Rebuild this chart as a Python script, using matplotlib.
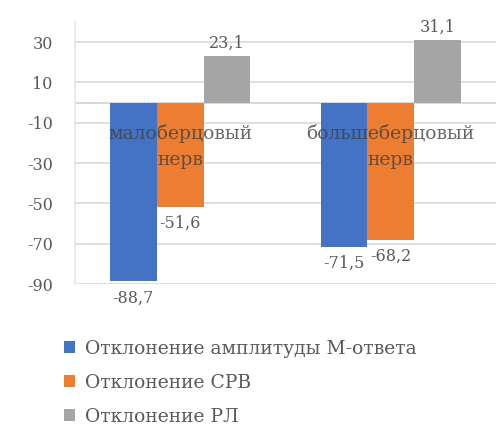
import numpy as np
import matplotlib.pyplot as plt

# данные
categories = [['малоберцовый', 'нерв'], ['большеберцовый', 'нерв']]
series_names = ['Отклонение амплитуды M-ответа', 'Отклонение СРВ', 'Отклонение РЛ']
amplitude = [-88.7, -71.5]
srv = [-51.6, -68.2]
rl = [23.1, 31.1]
yticks = [30, 10, -10, -30, -50, -70, -90]

colors = ['#4472C4', '#ED7D31', '#A5A5A5']
txt = '#595959'
font = 'DejaVu Serif'

fig = plt.figure(figsize=(4.96, 4.28), dpi=100)
ax = fig.add_axes([0.151, 0.3364, 0.849, 0.6122])

x = np.arange(len(categories))
w = 0.222
series = [amplitude, srv, rl]
bars = []
for i, (vals, c) in enumerate(zip(series, colors)):
    b = ax.bar(x + (i - 1) * w, vals, w, color=c, zorder=3, label=series_names[i])
    bars.append(b)

ax.set_xlim(-0.5, 1.5)
ax.set_ylim(-90, 40)
ax.set_yticks(yticks)
ax.set_yticklabels([str(t) for t in yticks], fontsize=11.5, color=txt, family=font)
ax.set_xticks([])
ax.tick_params(axis='y', length=0, pad=16)
ax.grid(axis='y', color='#d9d9d9', lw=1.2, zorder=0)
ax.axhline(0, color='#d9d9d9', lw=1.5, zorder=2)
for s in ['top', 'right', 'bottom']:
    ax.spines[s].set_visible(False)
ax.spines['left'].set_color('#e6e6e6')
ax.spines['left'].set_linewidth(1.2)

# подписи значений
def fmt(v):
    return f'{v:.1f}'.replace('.', ',')

for b in bars:
    for r in b:
        v = r.get_height()
        cx = r.get_x() + r.get_width() / 2
        if v >= 0:
            ax.text(cx, v + 2, fmt(v), ha='center', va='bottom', fontsize=11.5,
                    color=txt, family=font, zorder=5)
        else:
            ax.text(cx, v - 4, fmt(v), ha='center', va='top', fontsize=11.5,
                    color=txt, family=font, zorder=5, clip_on=False)

# подписи категорий поверх столбцов
for xi, (l1, l2) in zip(x, categories):
    ax.text(xi, -15.5, l1, ha='center', va='center', fontsize=13.5, color='#404040',
            family=font, zorder=6, alpha=0.8)
    ax.text(xi, -28.5, l2, ha='center', va='center', fontsize=13.5, color='#404040',
            family=font, zorder=6, alpha=0.8)

fig.legend(handles=bars, labels=series_names, loc='upper left',
           bbox_to_anchor=(0.095, 0.245), frameon=False, ncol=1,
           prop={'family': font, 'size': 13.5}, labelcolor=txt,
           handlelength=0.6, handleheight=0.6, handletextpad=0.5,
           labelspacing=0.85)

fig.savefig('out.png', dpi=100)
